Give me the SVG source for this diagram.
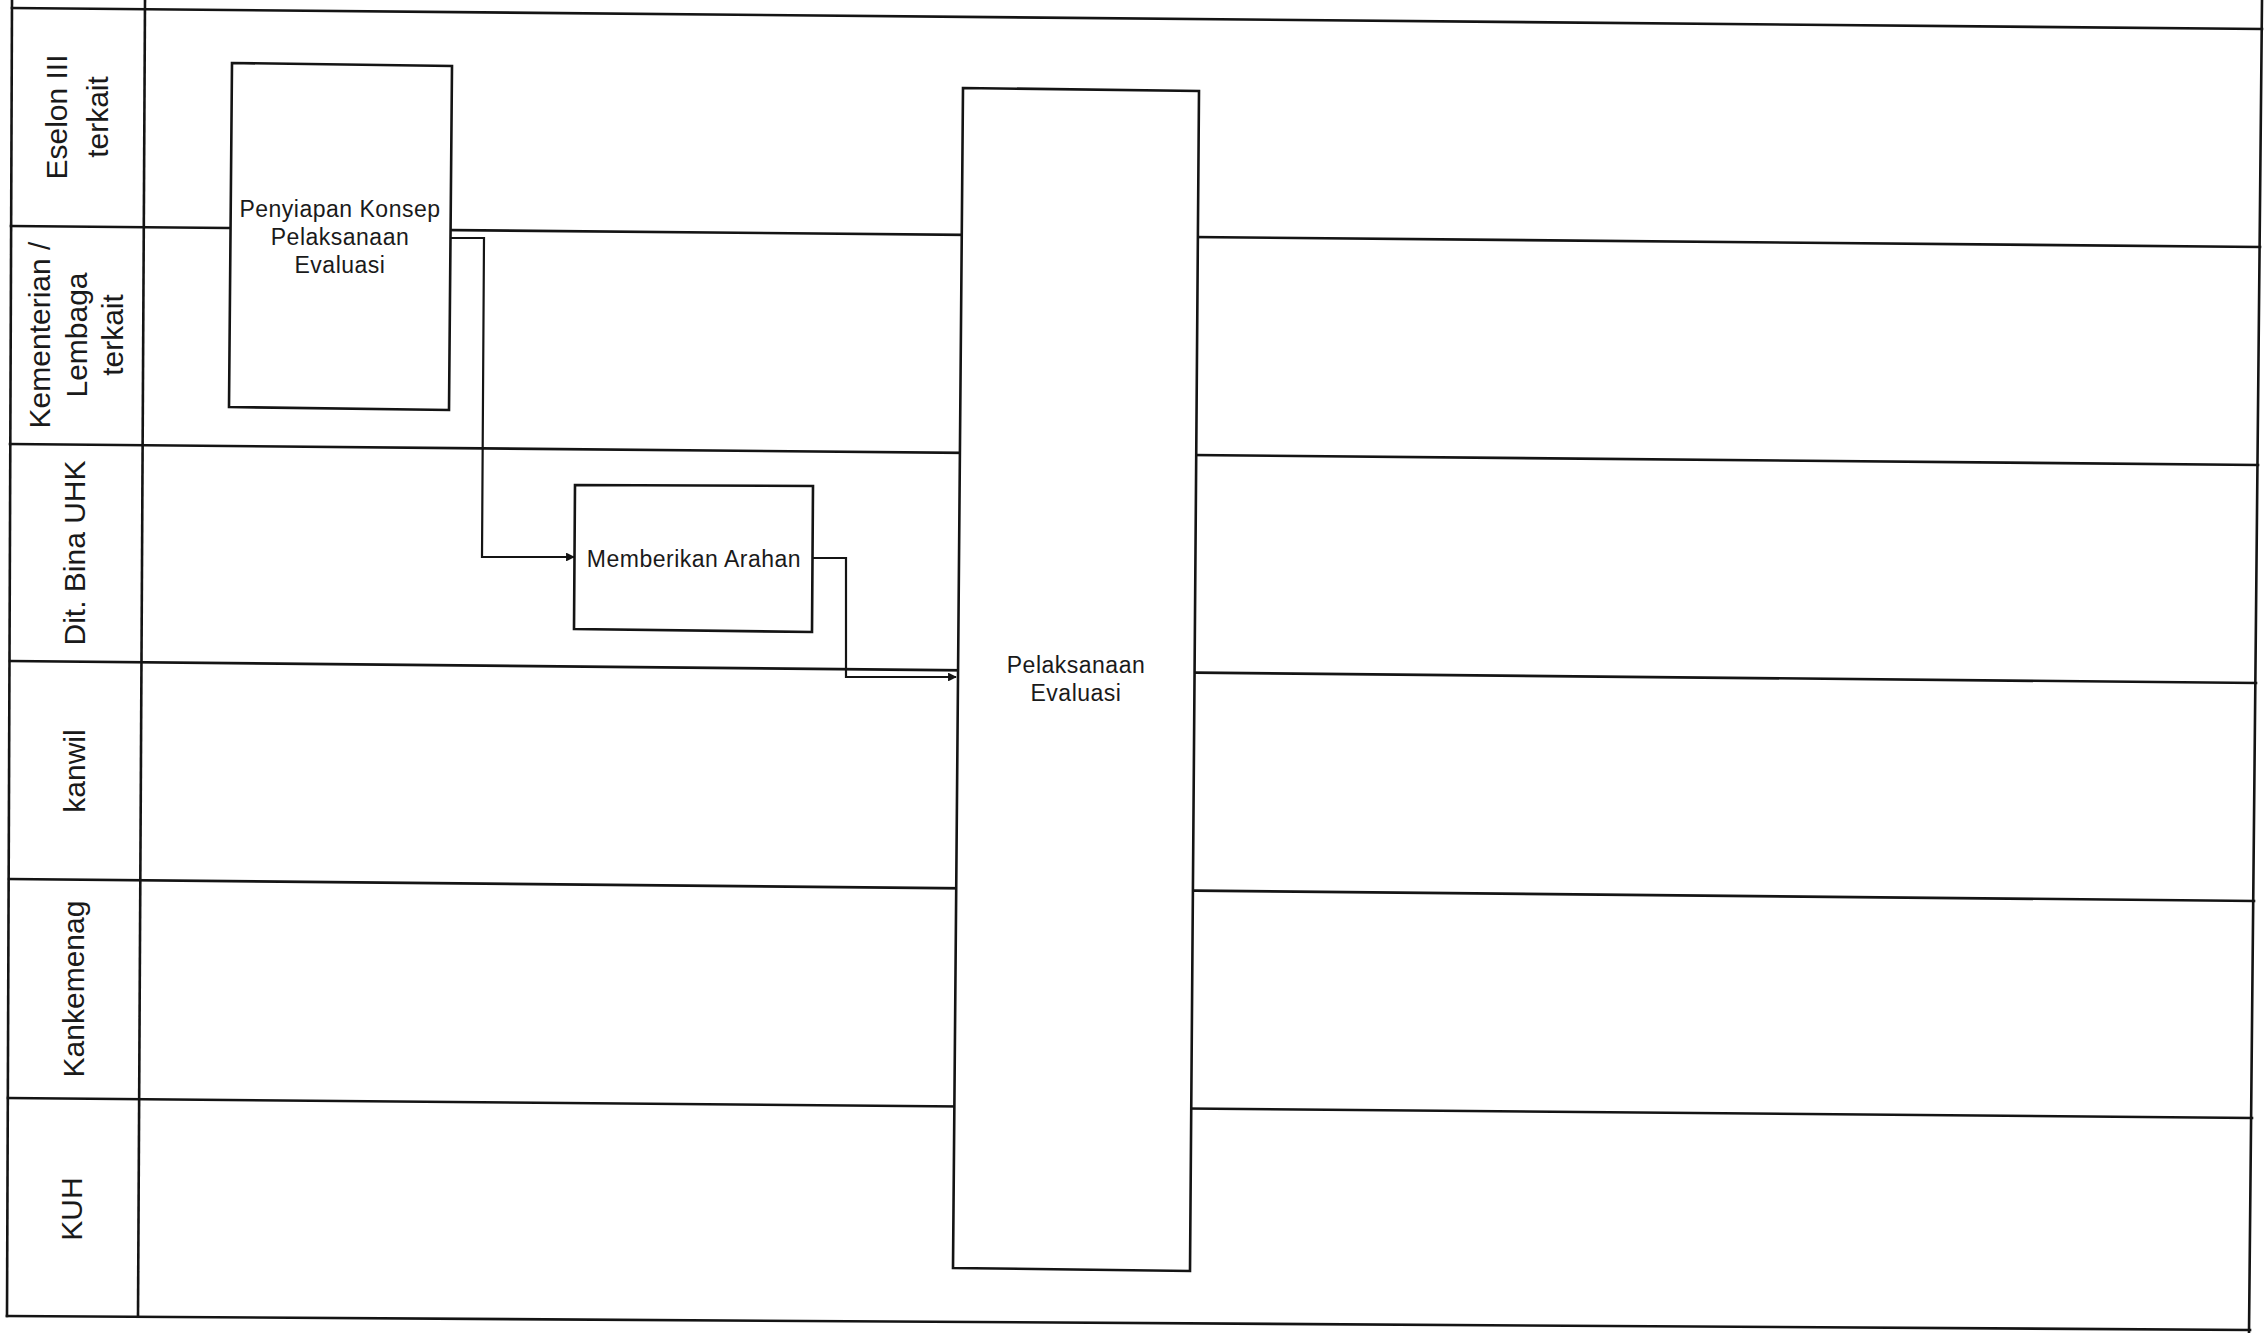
<svg xmlns="http://www.w3.org/2000/svg" width="2266" height="1333" viewBox="0 0 2266 1333">
  <style>
    .ln { stroke: #141414; stroke-width: 2.6; fill: none; stroke-linecap: square; }
    .box { stroke: #141414; stroke-width: 2.6; fill: #ffffff; }
    .con { stroke: #141414; stroke-width: 2.2; fill: none; }
    .lbl { font-family: "Liberation Sans", Arial, sans-serif; font-size: 30px; fill: #1a1a1a; text-anchor: middle; }
    .txt { font-family: "Liberation Sans", Arial, sans-serif; font-size: 23px; letter-spacing: 0.5px; fill: #1a1a1a; text-anchor: middle; }
  </style>
  <defs>
    <marker id="arr" viewBox="0 0 10 10" refX="9" refY="5" markerWidth="4" markerHeight="4" orient="auto" markerUnits="strokeWidth">
      <path d="M0,0 L10,5 L0,10 Z" fill="#141414"/>
    </marker>
  </defs>
  <rect x="0" y="0" width="2266" height="1333" fill="#ffffff"/>

  <g id="lanes">
    <line class="ln" x1="12" y1="0" x2="7" y2="1316"/>
    <line class="ln" x1="145" y1="0" x2="138" y2="1316"/>
    <line class="ln" x1="2262" y1="0" x2="2249" y2="1333"/>
    <line class="ln" x1="12" y1="8" x2="2262" y2="29"/>
    <line class="ln" x1="11" y1="226" x2="2260" y2="247"/>
    <line class="ln" x1="10" y1="444" x2="2258" y2="465"/>
    <line class="ln" x1="10" y1="661" x2="2256" y2="683"/>
    <line class="ln" x1="9" y1="879" x2="2254" y2="901"/>
    <line class="ln" x1="8" y1="1098" x2="2252" y2="1118"/>
    <line class="ln" x1="7" y1="1316" x2="2250" y2="1330"/>
  </g>

  <g id="lane-labels">
    <text class="lbl" transform="translate(67,117) rotate(-90)">Eselon III</text>
    <text class="lbl" transform="translate(108,117) rotate(-90)">terkait</text>
    <text class="lbl" transform="translate(50,335) rotate(-90)">Kementerian /</text>
    <text class="lbl" transform="translate(87,335) rotate(-90)">Lembaga</text>
    <text class="lbl" transform="translate(123,335) rotate(-90)">terkait</text>
    <text class="lbl" transform="translate(85,553) rotate(-90)">Dit. Bina UHK</text>
    <text class="lbl" transform="translate(85,771) rotate(-90)">kanwil</text>
    <text class="lbl" transform="translate(84,989) rotate(-90)">Kankemenag</text>
    <text class="lbl" transform="translate(82,1209) rotate(-90)">KUH</text>
  </g>

  <g id="node-penyiapan">
    <polygon class="box" points="232,63 452,66 449,410 229,407"/>
    <text class="txt" x="340" y="217">Penyiapan Konsep</text>
    <text class="txt" x="340" y="245">Pelaksanaan</text>
    <text class="txt" x="340" y="273">Evaluasi</text>
  </g>

  <g id="node-memberikan">
    <polygon class="box" points="575,485 813,486 812,632 574,629"/>
    <text class="txt" x="694" y="567">Memberikan Arahan</text>
  </g>

  <g id="node-pelaksanaan">
    <polygon class="box" points="963,88 1199,91 1190,1271 953,1268"/>
    <text class="txt" x="1076" y="673">Pelaksanaan</text>
    <text class="txt" x="1076" y="701">Evaluasi</text>
  </g>

  <g id="connectors">
    <polyline class="con" points="451,238 484,238 482,557 574,557" marker-end="url(#arr)"/>
    <polyline class="con" points="813,558 846,558 846,677 956,677" marker-end="url(#arr)"/>
  </g>
</svg>
